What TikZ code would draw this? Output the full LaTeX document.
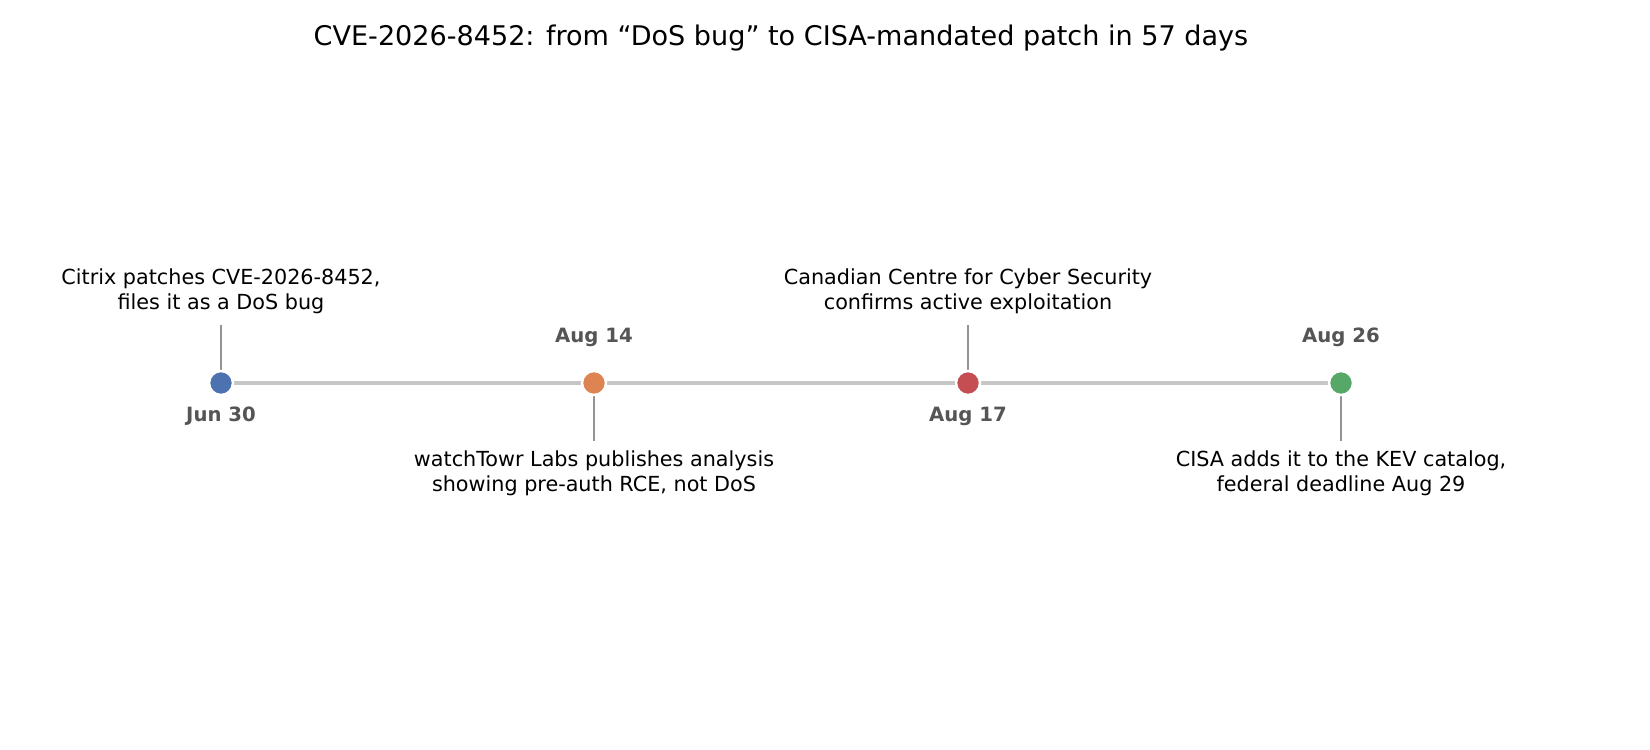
\documentclass[tikz,border=0pt]{standalone}
\usepackage{fontspec}
\setmainfont{DejaVu Sans}
\definecolor{cblue}{HTML}{4C72B0}
\definecolor{corange}{HTML}{DD8452}
\definecolor{cred}{HTML}{C44E52}
\definecolor{cgreen}{HTML}{55A868}
\definecolor{dategray}{HTML}{555555}
\tikzset{
  event/.style={circle, draw=white, line width=0.7pt, minimum size=0.24cm, inner sep=0pt},
  stem/.style={draw=gray!85, line width=0.5pt},
  note/.style={font=\fontsize{5.9}{7.1}\selectfont, align=center, inner sep=0pt},
  date/.style={font=\fontsize{5.6}{6}\selectfont\bfseries, text=dategray, inner sep=0pt}
}
\begin{document}
\begin{tikzpicture}[x=0.1mm, y=-0.1mm]
        \path[use as bounding box] (0,0) rectangle (1650,750);
        \node[font=\fontsize{7.7}{9}\selectfont] (title) at (781,38) {CVE-2026-8452: from “DoS bug” to CISA-mandated patch in 57 days};

        \coordinate (jun) at (221,383);
        \coordinate (augA) at (594,383);
        \coordinate (augB) at (968,383);
        \coordinate (augC) at (1341,383);
        \draw[gray!45, line width=1.1pt] (jun) -- (augC);

        % stems
        \coordinate (jtop) at (221,325);
        \coordinate (atop) at (594,441);
        \coordinate (btop) at (968,325);
        \coordinate (ctop) at (1341,441);
        \draw[stem] (jun) -- (jtop);
        \draw[stem] (augA) -- (atop);
        \draw[stem] (augB) -- (btop);
        \draw[stem] (augC) -- (ctop);

        \node[event, fill=cblue] (e1) at (jun) {};
        \node[event, fill=corange] (e2) at (augA) {};
        \node[event, fill=cred] (e3) at (augB) {};
        \node[event, fill=cgreen] (e4) at (augC) {};

        \node[date] (d1) at (221,416) {Jun 30};
        \node[date] (d2) at (594,337) {Aug 14};
        \node[date] (d3) at (968,416) {Aug 17};
        \node[date] (d4) at (1341,337) {Aug 26};

        \node[note] (n1) at (221,291) {Citrix patches CVE-2026-8452,\\files it as a DoS bug};
        \node[note] (n2) at (594,473) {watchTowr Labs publishes analysis\\showing pre-auth RCE, not DoS};
        \node[note] (n3) at (968,291) {Canadian Centre for Cyber Security\\confirms active exploitation};
        \node[note] (n4) at (1341,473) {CISA adds it to the KEV catalog,\\federal deadline Aug 29};
\end{tikzpicture}
\end{document}
